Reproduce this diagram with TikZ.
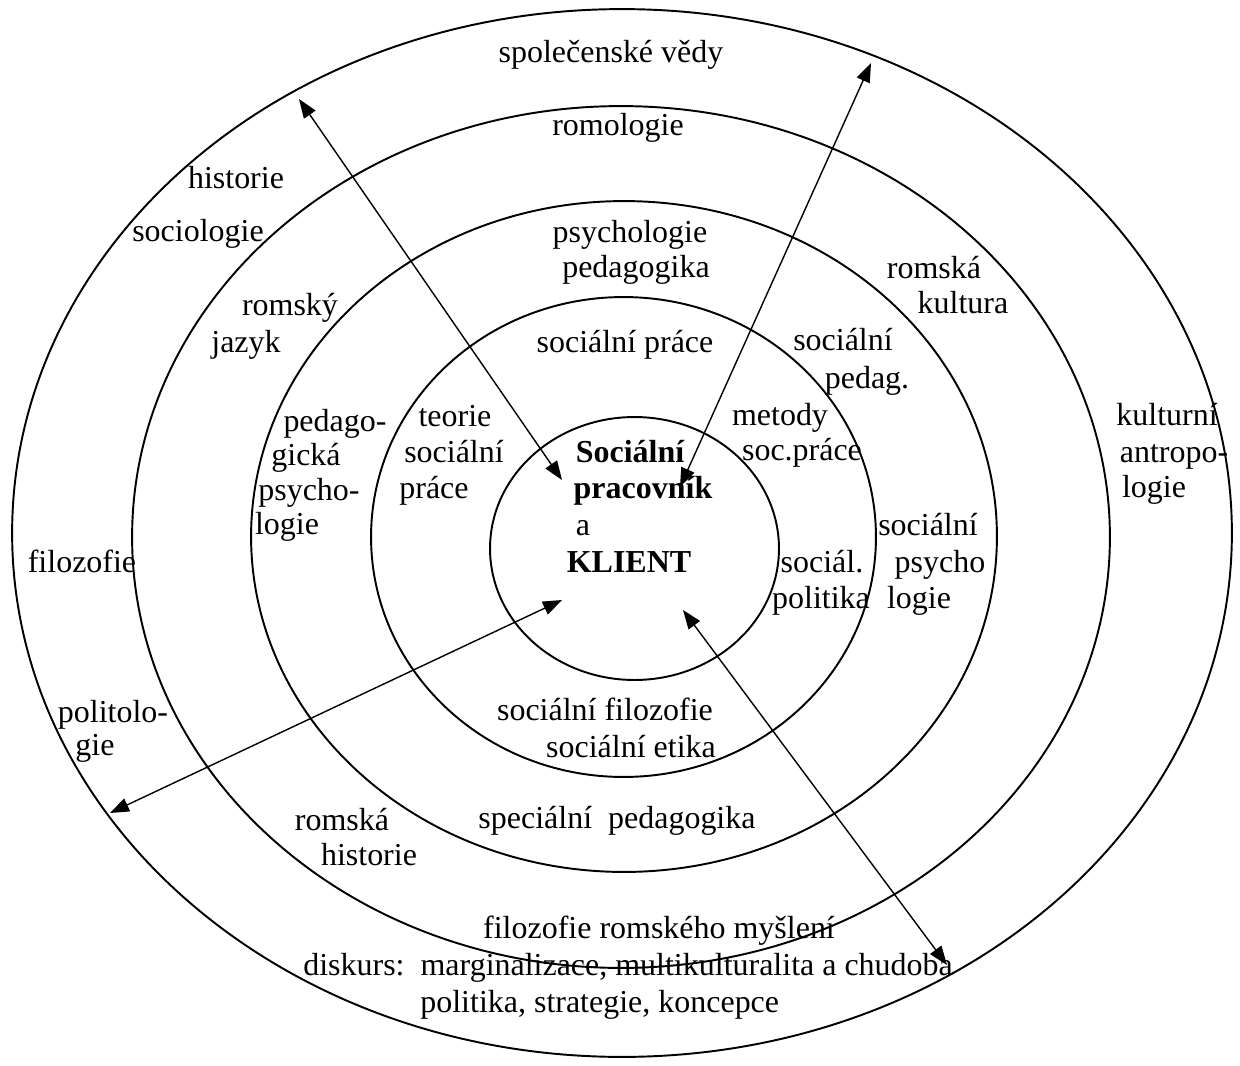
\documentclass[tikz,border=0pt]{standalone}
\usepackage{fontspec}
\setmainfont{Liberation Serif}
\usetikzlibrary{arrows.meta}

\tikzset{
    ring/.style={line width=1.1pt},
    twoway/.style={line width=0.8pt, {Triangle[length=0.38cm,width=0.28cm]}-{Triangle[length=0.38cm,width=0.28cm]}},
    lbl/.style={anchor=base, inner sep=0pt, font=\fontsize{18.2}{21}\selectfont},
    lblw/.style={lbl, anchor=base west},
}

\begin{document}
\begin{tikzpicture}[x=0.02cm, y=-0.02cm]
    \useasboundingbox (0,0) rectangle (1240,1065);

    %rings
    \draw[ring] (622,533) ellipse [x radius=12.2cm, y radius=10.48cm];
    \draw[ring] (621,537) ellipse [x radius=9.78cm, y radius=8.62cm];
    \draw[ring] (624,536.5) ellipse [x radius=7.46cm, y radius=6.71cm];
    \draw[ring] (623.5,537) ellipse [x radius=5.05cm, y radius=4.8cm];
    \draw[ring] (634.5,548.5) ellipse [x radius=2.89cm, y radius=2.63cm];

    %labels (outer ring)
    \node[lbl] (vedy) at (611,62) {společenské vědy};
    \node[lbl] (historie) at (236,188) {historie};
    \node[lbl] (sociologie) at (198,241) {sociologie};
    \node[lbl] (filozofie) at (82,572) {filozofie};
    \node[lbl] (politolo) at (113,722) {politolo-};
    \node[lbl] (politologie) at (95,755) {gie};
    \node[lbl] (kulturni) at (1167,425) {kulturní};
    \node[lbl] (antropo) at (1174,462) {antropo-};
    \node[lbl] (antropologie) at (1154,497) {logie};
    \node[lbl] (myslenif) at (659,938) {filozofie romského myšlení};
    \node[lblw] (diskurs) at (303,975) {diskurs:\hspace{0.5em}marginalizace, multikulturalita a chudoba};
    \node[lblw] (koncepce) at (420,1012) {politika, strategie, koncepce};

    %labels (second ring)
    \node[lbl] (romologie) at (618,135) {romologie};
    \node[lbl] (romsky) at (290,315) {romský};
    \node[lbl] (jazyk) at (246,352) {jazyk};
    \node[lbl] (romska) at (934,278) {romská};
    \node[lbl] (kultura) at (963,313) {kultura};
    \node[lbl] (romskah) at (342,830) {romská};
    \node[lbl] (historieh) at (369,865) {historie};

    %labels (third ring)
    \node[lbl] (psychologie) at (630,242) {psychologie};
    \node[lbl] (pedagogika) at (636,277) {pedagogika};
    \node[lbl] (pedago) at (335,431) {pedago-};
    \node[lbl] (gicka) at (306,465) {gická};
    \node[lbl] (psycho) at (309,500) {psycho-};
    \node[lbl] (psychologieb) at (287,534) {logie};
    \node[lbl] (socialni) at (843,350) {sociální};
    \node[lbl] (pedag) at (867,388) {pedag.};
    \node[lbl] (socialnir) at (928,535) {sociální};
    \node[lbl] (psychor) at (940,572) {psycho};
    \node[lbl] (psychologier) at (919,608) {logie};
    \node[lbl] (specialni) at (617,828) {speciální\hspace{0.5em}pedagogika};

    %labels (fourth ring)
    \node[lbl] (sprace) at (625,352) {sociální práce};
    \node[lbl] (teorie) at (455,426) {teorie};
    \node[lbl] (teoriesoc) at (454,462) {sociální};
    \node[lbl] (teorieprace) at (434,498) {práce};
    \node[lbl] (metody) at (780,425) {metody};
    \node[lbl] (socprace) at (802,460) {soc.práce};
    \node[lbl] (social) at (822,572) {sociál.};
    \node[lbl] (politika) at (821,608) {politika};
    \node[lbl] (sfilozofie) at (605,720) {sociální filozofie};
    \node[lbl] (setika) at (631,757) {sociální etika};

    %labels (centre)
    \node[lbl, font=\fontsize{18.2}{21}\selectfont\bfseries] (pracovnik1) at (630,462) {Sociální};
    \node[lbl, font=\fontsize{18.2}{21}\selectfont\bfseries] (pracovnik2) at (643,498) {pracovník};
    \node[lbl] (a) at (583,535) {a};
    \node[lbl, font=\fontsize{18.2}{21}\selectfont\bfseries] (klient) at (629,572) {KLIENT};

    %arrows
    \coordinate (a1o) at (299,99);
    \coordinate (a1i) at (562,480);
    \coordinate (a2o) at (871,63);
    \coordinate (a2i) at (680,487);
    \coordinate (a3o) at (110,813);
    \coordinate (a3i) at (562,600);
    \coordinate (a4o) at (947,965);
    \coordinate (a4i) at (683,610);
    \draw[twoway] (a1o) -- (a1i);
    \draw[twoway] (a2o) -- (a2i);
    \draw[twoway] (a3o) -- (a3i);
    \draw[twoway] (a4o) -- (a4i);
\end{tikzpicture}
\end{document}
